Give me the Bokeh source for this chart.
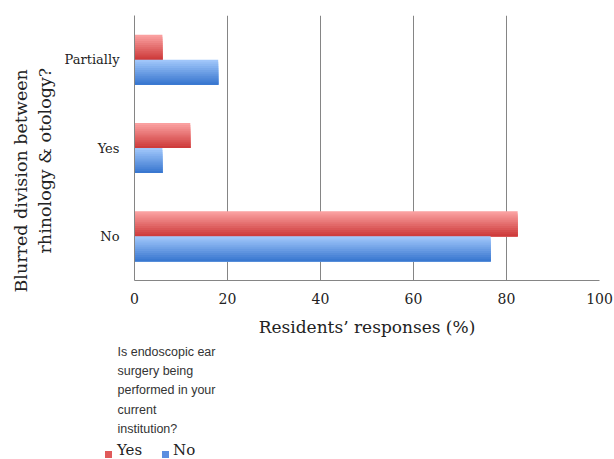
from bokeh.plotting import figure
from bokeh.models import FactorRange, Range1d, Title, ColumnDataSource, Div
from bokeh.layouts import column
from bokeh.transform import dodge
from bokeh.embed import file_html
from bokeh.resources import INLINE

categories = ["No", "Yes", "Partially"]
yes_values = [82.4, 12, 6]
no_values = [76.6, 6, 18]
x_ticks = [0, 20, 40, 60, 80, 100]
series_labels = ["Yes", "No"]

src = ColumnDataSource(dict(cat=categories, yes=yes_values, no=no_values))

p = figure(width=614, height=440, output_backend="svg", toolbar_location=None,
           y_range=FactorRange(*categories, range_padding=0),
           x_range=Range1d(0, 100),
           min_border_left=134, min_border_right=15, min_border_top=15, min_border_bottom=160)
p.outline_line_color = None
p.background_fill_color = "white"
p.border_fill_color = "white"

def lerp(c1, c2, t):
    return "#%02x%02x%02x" % tuple(int(round(a + (b - a) * t)) for a, b in zip(c1, c2))

bar_h = 0.283
n = 12
step = bar_h / n
red_top, red_bot = (250, 160, 160), (206, 60, 60)
blue_top, blue_bot = (160, 198, 250), (58, 120, 208)
for series, center, ctop, cbot in [("yes", bar_h / 2, red_top, red_bot), ("no", -bar_h / 2, blue_top, blue_bot)]:
    top = center + bar_h / 2
    for i in range(n):
        t = i / (n - 1)
        h = bar_h - i * step
        off = top - i * step - h / 2
        p.hbar(y=dodge("cat", off, range=p.y_range), right=series, left=0,
               height=h, source=src, color=lerp(ctop, cbot, t), line_color=None)

p.xgrid.grid_line_color = "#858585"
p.xgrid.grid_line_width = 1
p.ygrid.grid_line_color = None
p.xaxis.ticker = x_ticks
p.xaxis.axis_line_color = "#858585"
p.yaxis.axis_line_color = "#858585"
for ax in (p.xaxis, p.yaxis):
    ax.major_tick_line_color = None
    ax.minor_tick_line_color = None
    ax.major_label_text_font = "DejaVu Serif"
    ax.axis_label_text_font = "DejaVu Serif"
    ax.axis_label_text_font_style = "normal"
    ax.axis_label_text_color = "#222222"
    ax.major_label_text_color = "#222222"
p.xaxis.major_label_text_font_size = "14px"
p.xaxis.major_label_standoff = 6
p.xaxis.axis_label = "Residents’ responses (%)"
p.xaxis.axis_label_text_font_size = "17px"
p.xaxis.axis_label_standoff = 10
p.yaxis.major_label_text_font_size = "13px"
p.yaxis.major_label_standoff = 9

# two-line y title, lower than the frame centre as in the reference
y2 = Title(text="rhinology & otology?", align="left", offset=27,
           text_font="DejaVu Serif", text_font_size="17.5px", text_font_style="normal",
           text_color="#222222", standoff=13)
p.add_layout(y2, "left")
y1 = Title(text="Blurred division between", align="left", offset=-12,
           text_font="DejaVu Serif", text_font_size="17.5px", text_font_style="normal",
           text_color="#222222", standoff=-9)
p.add_layout(y1, "left")

q = Title(text="Is endoscopic ear\nsurgery being\nperformed in your\ncurrent\ninstitution?",
          align="left", offset=-17, text_font="Liberation Sans", text_font_size="12.5px",
          text_font_style="normal", text_color="#333333", text_line_height=1.38, standoff=7)
p.add_layout(q, "below")

sq = "position:absolute;top:11px;width:7px;height:7px;"
lab = "position:absolute;top:3px;line-height:15px;"
legend_html = (
    '<div style="position:relative;width:614px;height:19px;font-family:\'DejaVu Serif\';'
    'font-size:15px;color:#222222;">'
    f'<span style="{sq}left:105px;background:#e05a5a;"></span>'
    f'<span style="{lab}left:117px;">{series_labels[0]}</span>'
    f'<span style="{sq}left:162px;background:#5b8ee0;"></span>'
    f'<span style="{lab}left:173px;">{series_labels[1]}</span>'
    '</div>'
)
leg = Div(text=legend_html, width=614, height=19, margin=0)

layout = column(p, leg, spacing=0)
open("out.html", "w").write(file_html(layout, INLINE))
